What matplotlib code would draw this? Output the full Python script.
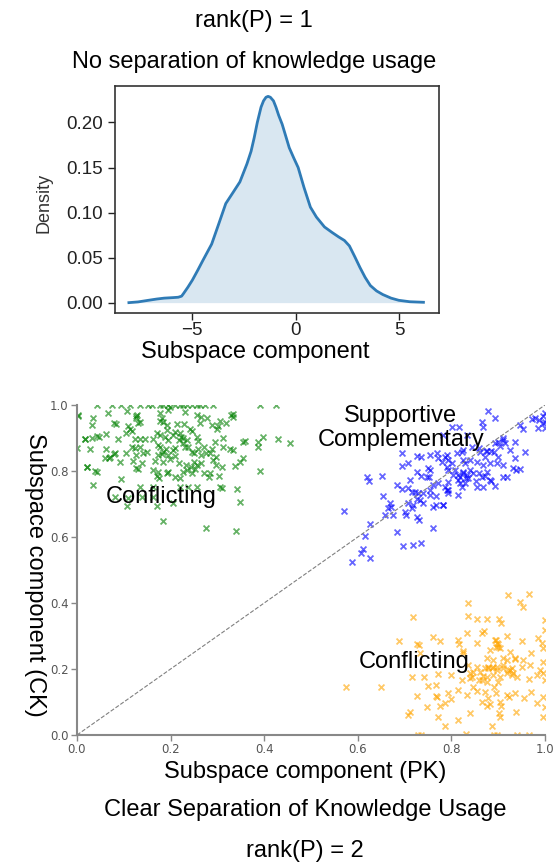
import numpy as np
import matplotlib
matplotlib.use("Agg")
import matplotlib.pyplot as plt

# KDE curve
kde_x = [-8.04, -7.6, -7.1, -6.7, -6.34, -5.9, -5.66, -5.5, -5.41, -5.2, -4.98, -4.72,
         -4.47, -4.05, -3.7, -3.37, -3.0, -2.69, -2.35, -2.15, -2.0, -1.85, -1.67,
         -1.55, -1.43, -1.33, -1.22, -1.07, -0.95, -0.82, -0.65, -0.48, -0.31, -0.1,
         0.12, 0.4, 0.71, 1.0, 1.39, 1.75, 2.07, 2.35, 2.59, 2.85, 3.1, 3.35, 3.6,
         3.9, 4.2, 4.6, 4.97, 5.5, 6.16]
kde_y = [0.0, 0.0008, 0.0026, 0.0040, 0.0050, 0.0056, 0.0060, 0.0072, 0.010, 0.017,
         0.025, 0.036, 0.047, 0.065, 0.088, 0.110, 0.123, 0.134, 0.154, 0.168, 0.183,
         0.200, 0.217, 0.224, 0.228, 0.229, 0.228, 0.224, 0.217, 0.208, 0.198, 0.185,
         0.172, 0.161, 0.150, 0.128, 0.106, 0.095, 0.084, 0.078, 0.073, 0.069, 0.063,
         0.051, 0.039, 0.028, 0.019, 0.013, 0.009, 0.005, 0.0026, 0.0010, 0.0004]
kde_xticks = [-5, 0, 5]
kde_yticks = [0.00, 0.05, 0.10, 0.15, 0.20]

# (PK, CK) pairs for each cluster
green_top = [0.043, 0.074, 0.095, 0.113, 0.135, 0.152, 0.16, 0.177, 0.184, 0.195, 0.209,
             0.22, 0.227, 0.234, 0.245, 0.256, 0.263, 0.274, 0.291, 0.391, 0.425]
green = [
    (0.067, 0.977), (0.106, 0.983), (0.129, 0.970), (0.126, 0.967), (0.177, 0.975),
    (0.181, 0.960), (0.195, 0.985), (0.199, 0.995), (0.231, 0.980), (0.256, 0.970),
    (0.266, 0.965), (0.330, 0.970), (0.333, 0.965), (0.035, 0.960), (0.127, 0.960),
    (0.177, 0.953), (0.184, 0.947), (0.277, 0.960), (0.306, 0.953), (0.334, 0.973),
    (0.031, 0.939), (0.078, 0.946), (0.083, 0.942), (0.131, 0.944), (0.135, 0.949),
    (0.110, 0.936), (0.192, 0.939), (0.213, 0.942), (0.229, 0.942), (0.263, 0.944),
    (0.288, 0.939), (0.302, 0.936), (0.318, 0.946), (0.117, 0.922), (0.113, 0.926),
    (0.192, 0.924), (0.209, 0.919), (0.220, 0.914), (0.241, 0.926), (0.245, 0.922),
    (0.300, 0.926), (0.042, 0.906), (0.063, 0.912), (0.105, 0.914), (0.170, 0.914),
    (0.177, 0.909), (0.206, 0.909), (0.222, 0.904), (0.227, 0.899), (0.256, 0.904),
    (0.017, 0.896), (0.031, 0.899), (0.048, 0.902), (0.088, 0.896), (0.124, 0.896),
    (0.135, 0.896), (0.145, 0.896), (0.163, 0.896), (0.189, 0.902), (0.195, 0.894),
    (0.217, 0.894), (0.234, 0.894), (0.258, 0.892), (0.295, 0.889), (0.313, 0.899),
    (0.355, 0.889), (0.359, 0.892), (0.387, 0.889), (0.398, 0.904), (0.429, 0.896),
    (0.455, 0.886), (0.000, 0.869), (0.028, 0.866), (0.061, 0.866), (0.081, 0.856),
    (0.117, 0.872), (0.124, 0.869), (0.135, 0.874), (0.174, 0.879), (0.177, 0.872),
    (0.190, 0.866), (0.206, 0.864), (0.209, 0.869), (0.227, 0.884), (0.231, 0.874),
    (0.238, 0.874), (0.259, 0.866), (0.271, 0.872), (0.288, 0.866), (0.313, 0.872),
    (0.327, 0.866), (0.333, 0.864), (0.387, 0.872), (0.069, 0.838), (0.071, 0.841),
    (0.078, 0.851), (0.105, 0.856), (0.127, 0.848), (0.142, 0.856), (0.150, 0.859),
    (0.174, 0.848), (0.181, 0.852), (0.184, 0.859), (0.195, 0.848), (0.209, 0.845),
    (0.245, 0.859), (0.249, 0.856), (0.266, 0.848), (0.275, 0.856), (0.284, 0.856),
    (0.298, 0.843), (0.348, 0.828), (0.355, 0.838), (0.021, 0.811), (0.060, 0.840),
    (0.092, 0.828), (0.119, 0.830), (0.138, 0.825), (0.167, 0.830), (0.184, 0.828),
    (0.199, 0.835), (0.217, 0.823), (0.233, 0.818), (0.244, 0.813), (0.249, 0.828),
    (0.256, 0.818), (0.266, 0.825), (0.291, 0.833), (0.298, 0.818), (0.309, 0.811),
    (0.126, 0.808), (0.131, 0.805), (0.038, 0.801), (0.042, 0.798), (0.163, 0.803),
    (0.174, 0.798), (0.195, 0.798), (0.193, 0.795), (0.227, 0.798), (0.234, 0.803),
    (0.245, 0.795), (0.252, 0.805), (0.271, 0.795), (0.284, 0.795), (0.338, 0.815),
    (0.391, 0.800), (0.170, 0.785), (0.176, 0.778), (0.209, 0.781), (0.220, 0.778),
    (0.283, 0.781), (0.304, 0.785), (0.095, 0.775), (0.035, 0.758), (0.135, 0.751),
    (0.220, 0.751), (0.163, 0.753), (0.238, 0.753), (0.256, 0.753), (0.306, 0.751),
    (0.309, 0.747), (0.341, 0.744), (0.081, 0.720), (0.110, 0.717), (0.138, 0.722),
    (0.163, 0.722), (0.106, 0.694), (0.170, 0.694), (0.206, 0.702), (0.348, 0.707),
    (0.184, 0.648), (0.275, 0.626), (0.340, 0.619), (0.002, 0.970), (0.017, 0.897),
    (0.002, 0.967), (0.021, 0.812),
]
blue = [
    (0.879, 0.983), (0.893, 0.960), (0.865, 0.949), (0.868, 0.932), (0.801, 0.932),
    (0.817, 0.932), (0.947, 0.939), (0.952, 0.926), (0.972, 0.957), (0.979, 0.960),
    (0.988, 0.955), (0.995, 0.967), (0.996, 0.944), (0.986, 0.929), (0.783, 0.909),
    (0.834, 0.909), (0.843, 0.874), (0.893, 0.884), (0.900, 0.889), (0.904, 0.876),
    (0.911, 0.899), (0.915, 0.884), (0.936, 0.889), (0.925, 0.864), (0.957, 0.859),
    (0.936, 0.838), (0.890, 0.859), (0.875, 0.862), (0.872, 0.843), (0.861, 0.859),
    (0.858, 0.869), (0.825, 0.864), (0.822, 0.859), (0.811, 0.854), (0.790, 0.848),
    (0.786, 0.843), (0.769, 0.854), (0.754, 0.848), (0.736, 0.843), (0.727, 0.845),
    (0.694, 0.854), (0.694, 0.815), (0.708, 0.823), (0.772, 0.838), (0.779, 0.828),
    (0.793, 0.833), (0.801, 0.823), (0.825, 0.833), (0.829, 0.823), (0.840, 0.833),
    (0.854, 0.828), (0.868, 0.818), (0.882, 0.823), (0.897, 0.825), (0.911, 0.818),
    (0.932, 0.808), (0.939, 0.803), (0.947, 0.805), (0.751, 0.808), (0.754, 0.803),
    (0.736, 0.785), (0.747, 0.781), (0.753, 0.783), (0.727, 0.798), (0.712, 0.773),
    (0.790, 0.813), (0.793, 0.803), (0.807, 0.803), (0.815, 0.788), (0.818, 0.781),
    (0.825, 0.798), (0.833, 0.788), (0.840, 0.803), (0.847, 0.795), (0.858, 0.793),
    (0.865, 0.781), (0.875, 0.798), (0.882, 0.773), (0.893, 0.755), (0.911, 0.781),
    (0.918, 0.783), (0.651, 0.785), (0.619, 0.781), (0.623, 0.771), (0.683, 0.758),
    (0.694, 0.744), (0.708, 0.747), (0.715, 0.737), (0.722, 0.737), (0.729, 0.734),
    (0.740, 0.732), (0.754, 0.742), (0.761, 0.758), (0.772, 0.765), (0.786, 0.753),
    (0.768, 0.724), (0.790, 0.742), (0.793, 0.732), (0.822, 0.753), (0.829, 0.763),
    (0.815, 0.727), (0.854, 0.753), (0.793, 0.768), (0.836, 0.778), (0.654, 0.724),
    (0.669, 0.704), (0.672, 0.692), (0.665, 0.687), (0.658, 0.667), (0.676, 0.667),
    (0.701, 0.677), (0.704, 0.667), (0.708, 0.702), (0.715, 0.687), (0.719, 0.697),
    (0.726, 0.714), (0.733, 0.712), (0.740, 0.702), (0.761, 0.692), (0.783, 0.697),
    (0.754, 0.727), (0.768, 0.697), (0.570, 0.680), (0.727, 0.662), (0.731, 0.652),
    (0.627, 0.639), (0.761, 0.626), (0.683, 0.616), (0.615, 0.603), (0.697, 0.573),
    (0.717, 0.576), (0.736, 0.583), (0.612, 0.563), (0.606, 0.551), (0.626, 0.535),
    (0.587, 0.523), (1.0, 0.975), (1.0, 0.950), (1.0, 0.930), (0.825, 0.794),
    (0.831, 0.779), (0.818, 0.764), (0.814, 0.773), (0.803, 0.788), (0.853, 0.770),
    (0.872, 0.785), (0.885, 0.770), (0.868, 0.752), (0.900, 0.842), (0.874, 0.861),
    (0.885, 0.861), (0.910, 0.894), (0.793, 0.742), (0.782, 0.697),
]
orange = [
    (0.921, 0.424), (0.966, 0.427), (0.836, 0.399), (0.947, 0.402), (0.952, 0.389),
    (0.718, 0.357), (0.836, 0.361), (0.855, 0.351), (0.876, 0.351), (0.902, 0.351),
    (0.907, 0.338), (1.0, 0.348), (0.870, 0.316), (0.865, 0.308), (0.833, 0.310),
    (0.918, 0.300), (0.761, 0.296), (0.776, 0.286), (0.815, 0.288), (0.817, 0.276),
    (0.854, 0.278), (0.896, 0.288), (0.900, 0.276), (0.895, 0.268), (0.904, 0.263),
    (0.950, 0.286), (0.986, 0.293), (0.993, 0.278), (0.687, 0.285), (0.727, 0.276),
    (0.730, 0.273), (0.825, 0.256), (0.824, 0.247), (0.882, 0.258), (0.925, 0.253),
    (0.971, 0.250), (0.996, 0.263), (0.733, 0.249), (0.875, 0.232), (0.888, 0.227),
    (0.911, 0.232), (0.918, 0.227), (0.936, 0.229), (0.954, 0.227), (0.968, 0.212),
    (0.996, 0.222), (0.836, 0.212), (0.854, 0.205), (0.872, 0.202), (0.879, 0.205),
    (0.886, 0.202), (0.897, 0.207), (0.911, 0.202), (0.922, 0.197), (0.929, 0.202),
    (0.931, 0.187), (0.950, 0.207), (0.989, 0.197), (0.840, 0.187), (0.845, 0.177),
    (0.858, 0.167), (0.865, 0.167), (0.876, 0.177), (0.889, 0.182), (0.904, 0.177),
    (0.918, 0.187), (0.940, 0.177), (0.965, 0.169), (0.983, 0.182), (0.996, 0.187),
    (0.715, 0.175), (0.741, 0.175), (0.772, 0.185), (0.800, 0.182), (0.822, 0.167),
    (0.575, 0.144), (0.650, 0.144), (0.749, 0.149), (0.767, 0.152), (0.727, 0.119),
    (0.767, 0.118), (0.770, 0.116), (0.793, 0.128), (0.800, 0.108), (0.815, 0.136),
    (0.833, 0.121), (0.847, 0.146), (0.854, 0.134), (0.872, 0.131), (0.879, 0.111),
    (0.890, 0.146), (0.896, 0.126), (0.904, 0.101), (0.907, 0.088), (0.918, 0.121),
    (0.924, 0.116), (0.936, 0.126), (0.955, 0.111), (0.971, 0.131), (0.983, 0.098),
    (0.996, 0.116), (0.776, 0.088), (0.786, 0.096), (0.865, 0.101), (0.876, 0.088),
    (0.883, 0.094), (0.712, 0.071), (0.708, 0.061), (0.747, 0.086), (0.840, 0.068),
    (0.901, 0.066), (0.903, 0.056), (0.939, 0.071), (0.996, 0.056), (0.771, 0.054),
    (0.815, 0.045), (0.786, 0.027), (0.886, 0.027), (0.832, 0.003), (0.729, 0.0),
    (0.734, 0.0), (0.890, 0.0), (0.897, 0.0), (0.940, 0.0), (0.966, 0.0),
    (1.0, 0.318), (1.0, 0.167), (1.0, 0.086), (0.893, 0.288), (0.897, 0.279),
    (0.900, 0.267), (0.878, 0.203), (0.889, 0.206), (0.897, 0.197), (0.861, 0.191),
    (0.868, 0.179), (0.925, 0.197), (0.929, 0.182), (0.936, 0.233), (0.910, 0.212),
    (0.846, 0.191), (0.840, 0.173), (0.876, 0.161), (0.900, 0.161),
]
scatter_ticks = [0.0, 0.2, 0.4, 0.6, 0.8, 1.0]

SANS = ['Liberation Sans', 'DejaVu Sans']
W, H = 555, 865

fig = plt.figure(figsize=(W / 100, H / 100), dpi=100)


def fx(px):
    return px / W


def fy(py):
    return 1 - py / H


# ---- top: density of the single subspace component ----
ax1 = fig.add_axes([fx(115), fy(313), fx(439 - 115), (313 - 86) / H])
ax1.plot(kde_x, kde_y, color='#2f7bb6', lw=2, solid_joinstyle='round')
ax1.fill_between(kde_x, kde_y, color='#2f7bb6', alpha=0.18, lw=0)
ax1.set_xlim(-8.71, 6.91)
ax1.set_ylim(-0.0115, 0.2405)
ax1.set_xticks(kde_xticks)
ax1.set_yticks(kde_yticks)
ax1.set_yticklabels(['%.2f' % v for v in kde_yticks])
ax1.tick_params(labelsize=13.5, colors='#222', length=5, width=1)
ax1.tick_params(axis='x', pad=1.5)
for lab in ax1.get_xticklabels() + ax1.get_yticklabels():
    lab.set_family(SANS)
for sp in ax1.spines.values():
    sp.set_color('#333')
    sp.set_linewidth(1.2)

fig.text(fx(254), fy(21), 'rank(P) = 1', ha='center', va='center', fontsize=17, family=SANS)
fig.text(fx(254), fy(62), 'No separation of knowledge usage', ha='center', va='center',
         fontsize=17, family=SANS)
fig.text(fx(255), fy(352), 'Subspace component', ha='center', va='center', fontsize=17,
         family=SANS)
fig.text(fx(44), fy(203), 'Density', ha='center', va='center', rotation=90, fontsize=13,
         color='#333', family=SANS)

# ---- bottom: PK vs CK components ----
ax2 = fig.add_axes([fx(77), fy(735), fx(545 - 77), (735 - 405) / H])
g = np.array(green + [(x, 1.0) for x in green_top])
b = np.array(blue)
o = np.array(orange)
kw = dict(marker='x', s=18, linewidths=1.3, alpha=0.6)
ax2.scatter(g[:, 0], g[:, 1], color='green', **kw)
ax2.scatter(b[:, 0], b[:, 1], color='blue', **kw)
ax2.scatter(o[:, 0], o[:, 1], color='orange', **kw)
ax2.plot([0, 1], [0, 1], '--', color='gray', lw=0.8)
ax2.set_xlim(0, 1)
ax2.set_ylim(0, 1)
ax2.set_xticks(scatter_ticks)
ax2.set_yticks(scatter_ticks)
ax2.tick_params(labelsize=8.5, colors='#555', length=4, width=1, pad=2)
ax2.tick_params(color='#888')
ax2.spines['top'].set_visible(False)
ax2.spines['right'].set_visible(False)
for s in ('left', 'bottom'):
    ax2.spines[s].set_color('#888')
    ax2.spines[s].set_linewidth(1.5)

ax2.text(0.179, 0.721, 'Conflicting', ha='center', va='center', fontsize=17, family=SANS)
ax2.text(0.692, 0.93, 'Supportive\nComplementary', ha='center', va='center', fontsize=17,
         family=SANS, linespacing=1.15)
ax2.text(0.721, 0.221, 'Conflicting', ha='center', va='center', fontsize=17, family=SANS)

fig.text(fx(35), fy(575), 'Subspace component (CK)', ha='center', va='center',
         rotation=-90, fontsize=17, family=SANS)
fig.text(fx(305), fy(772), 'Subspace component (PK)', ha='center', va='center',
         fontsize=17, family=SANS)
fig.text(fx(305), fy(810), 'Clear Separation of Knowledge Usage', ha='center', va='center',
         fontsize=17, family=SANS)
fig.text(fx(305), fy(851), 'rank(P) = 2', ha='center', va='center', fontsize=17, family=SANS)

fig.savefig('out.png', dpi=100)
